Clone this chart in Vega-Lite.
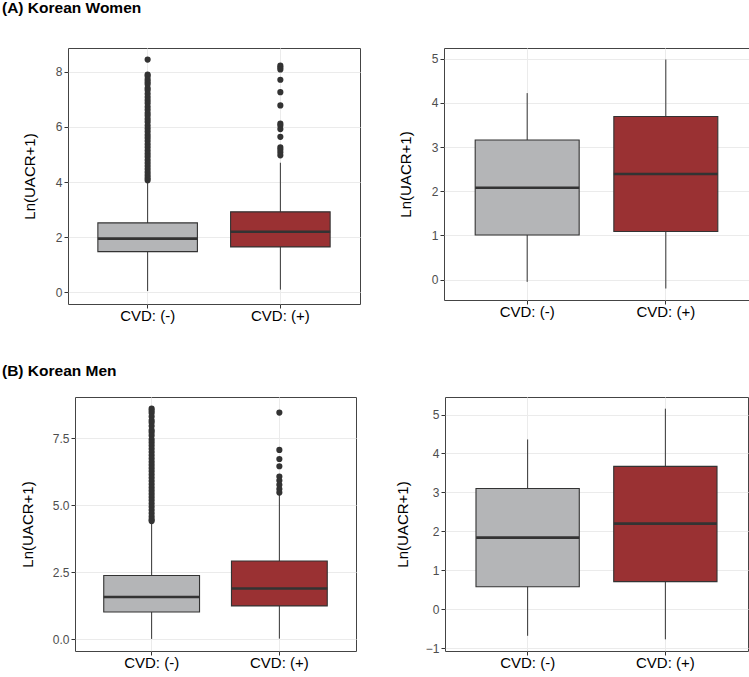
{
  "$schema": "https://vega.github.io/schema/vega-lite/v6.json",
  "padding": {"left": 1, "top": 0, "right": 0, "bottom": 0},
  "background": "white",
  "config": {
    "font": "Liberation Sans",
    "view": {"stroke": "#444444", "strokeWidth": 1},
    "axis": {"domain": false}
  },
  "datasets": {
    "boxes": [
      {"panel": "A1", "group": "CVD: (-)", "lower": 0.05, "q1": 1.48, "median": 1.95, "q3": 2.52, "upper": 4.05},
      {"panel": "A1", "group": "CVD: (+)", "lower": 0.1, "q1": 1.65, "median": 2.2, "q3": 2.92, "upper": 4.7},
      {"panel": "A2", "group": "CVD: (-)", "lower": -0.05, "q1": 1.01, "median": 2.08, "q3": 3.16, "upper": 4.22},
      {"panel": "A2", "group": "CVD: (+)", "lower": -0.2, "q1": 1.09, "median": 2.39, "q3": 3.69, "upper": 4.98},
      {"panel": "B1", "group": "CVD: (-)", "lower": 0.02, "q1": 1.02, "median": 1.58, "q3": 2.38, "upper": 4.4},
      {"panel": "B1", "group": "CVD: (+)", "lower": 0.03, "q1": 1.25, "median": 1.9, "q3": 2.92, "upper": 5.38},
      {"panel": "B2", "group": "CVD: (-)", "lower": -0.68, "q1": 0.58, "median": 1.84, "q3": 3.1, "upper": 4.36},
      {"panel": "B2", "group": "CVD: (+)", "lower": -0.77, "q1": 0.71, "median": 2.2, "q3": 3.67, "upper": 5.15}
    ],
    "outliers": [
      {"panel": "A1", "group": "CVD: (-)", "value": 8.44},
      {"panel": "A1", "group": "CVD: (-)", "value": 7.9},
      {"panel": "A1", "group": "CVD: (-)", "value": 7.84},
      {"panel": "A1", "group": "CVD: (-)", "value": 7.72},
      {"panel": "A1", "group": "CVD: (-)", "value": 7.63},
      {"panel": "A1", "group": "CVD: (-)", "value": 7.55},
      {"panel": "A1", "group": "CVD: (-)", "value": 7.41},
      {"panel": "A1", "group": "CVD: (-)", "value": 7.33},
      {"panel": "A1", "group": "CVD: (-)", "value": 7.2},
      {"panel": "A1", "group": "CVD: (-)", "value": 7.08},
      {"panel": "A1", "group": "CVD: (-)", "value": 6.97},
      {"panel": "A1", "group": "CVD: (-)", "value": 6.86},
      {"panel": "A1", "group": "CVD: (-)", "value": 6.73},
      {"panel": "A1", "group": "CVD: (-)", "value": 6.62},
      {"panel": "A1", "group": "CVD: (-)", "value": 6.5},
      {"panel": "A1", "group": "CVD: (-)", "value": 6.41},
      {"panel": "A1", "group": "CVD: (-)", "value": 6.29},
      {"panel": "A1", "group": "CVD: (-)", "value": 6.18},
      {"panel": "A1", "group": "CVD: (-)", "value": 6.05},
      {"panel": "A1", "group": "CVD: (-)", "value": 5.94},
      {"panel": "A1", "group": "CVD: (-)", "value": 5.83},
      {"panel": "A1", "group": "CVD: (-)", "value": 5.71},
      {"panel": "A1", "group": "CVD: (-)", "value": 5.6},
      {"panel": "A1", "group": "CVD: (-)", "value": 5.49},
      {"panel": "A1", "group": "CVD: (-)", "value": 5.37},
      {"panel": "A1", "group": "CVD: (-)", "value": 5.26},
      {"panel": "A1", "group": "CVD: (-)", "value": 5.14},
      {"panel": "A1", "group": "CVD: (-)", "value": 5.03},
      {"panel": "A1", "group": "CVD: (-)", "value": 4.92},
      {"panel": "A1", "group": "CVD: (-)", "value": 4.8},
      {"panel": "A1", "group": "CVD: (-)", "value": 4.69},
      {"panel": "A1", "group": "CVD: (-)", "value": 4.58},
      {"panel": "A1", "group": "CVD: (-)", "value": 4.47},
      {"panel": "A1", "group": "CVD: (-)", "value": 4.36},
      {"panel": "A1", "group": "CVD: (-)", "value": 4.25},
      {"panel": "A1", "group": "CVD: (-)", "value": 4.15},
      {"panel": "A1", "group": "CVD: (-)", "value": 4.07},
      {"panel": "A1", "group": "CVD: (+)", "value": 8.22},
      {"panel": "A1", "group": "CVD: (+)", "value": 8.15},
      {"panel": "A1", "group": "CVD: (+)", "value": 8.08},
      {"panel": "A1", "group": "CVD: (+)", "value": 7.71},
      {"panel": "A1", "group": "CVD: (+)", "value": 7.26},
      {"panel": "A1", "group": "CVD: (+)", "value": 6.78},
      {"panel": "A1", "group": "CVD: (+)", "value": 6.12},
      {"panel": "A1", "group": "CVD: (+)", "value": 6.05},
      {"panel": "A1", "group": "CVD: (+)", "value": 5.92},
      {"panel": "A1", "group": "CVD: (+)", "value": 5.64},
      {"panel": "A1", "group": "CVD: (+)", "value": 5.26},
      {"panel": "A1", "group": "CVD: (+)", "value": 5.18},
      {"panel": "A1", "group": "CVD: (+)", "value": 5.08},
      {"panel": "A1", "group": "CVD: (+)", "value": 4.97},
      {"panel": "B1", "group": "CVD: (-)", "value": 8.6},
      {"panel": "B1", "group": "CVD: (-)", "value": 8.52},
      {"panel": "B1", "group": "CVD: (-)", "value": 8.43},
      {"panel": "B1", "group": "CVD: (-)", "value": 8.3},
      {"panel": "B1", "group": "CVD: (-)", "value": 8.16},
      {"panel": "B1", "group": "CVD: (-)", "value": 8.08},
      {"panel": "B1", "group": "CVD: (-)", "value": 7.95},
      {"panel": "B1", "group": "CVD: (-)", "value": 7.8},
      {"panel": "B1", "group": "CVD: (-)", "value": 7.72},
      {"panel": "B1", "group": "CVD: (-)", "value": 7.6},
      {"panel": "B1", "group": "CVD: (-)", "value": 7.45},
      {"panel": "B1", "group": "CVD: (-)", "value": 7.34},
      {"panel": "B1", "group": "CVD: (-)", "value": 7.22},
      {"panel": "B1", "group": "CVD: (-)", "value": 7.1},
      {"panel": "B1", "group": "CVD: (-)", "value": 6.98},
      {"panel": "B1", "group": "CVD: (-)", "value": 6.86},
      {"panel": "B1", "group": "CVD: (-)", "value": 6.74},
      {"panel": "B1", "group": "CVD: (-)", "value": 6.62},
      {"panel": "B1", "group": "CVD: (-)", "value": 6.5},
      {"panel": "B1", "group": "CVD: (-)", "value": 6.38},
      {"panel": "B1", "group": "CVD: (-)", "value": 6.26},
      {"panel": "B1", "group": "CVD: (-)", "value": 6.14},
      {"panel": "B1", "group": "CVD: (-)", "value": 6.02},
      {"panel": "B1", "group": "CVD: (-)", "value": 5.9},
      {"panel": "B1", "group": "CVD: (-)", "value": 5.78},
      {"panel": "B1", "group": "CVD: (-)", "value": 5.66},
      {"panel": "B1", "group": "CVD: (-)", "value": 5.54},
      {"panel": "B1", "group": "CVD: (-)", "value": 5.42},
      {"panel": "B1", "group": "CVD: (-)", "value": 5.3},
      {"panel": "B1", "group": "CVD: (-)", "value": 5.18},
      {"panel": "B1", "group": "CVD: (-)", "value": 5.06},
      {"panel": "B1", "group": "CVD: (-)", "value": 4.94},
      {"panel": "B1", "group": "CVD: (-)", "value": 4.82},
      {"panel": "B1", "group": "CVD: (-)", "value": 4.7},
      {"panel": "B1", "group": "CVD: (-)", "value": 4.58},
      {"panel": "B1", "group": "CVD: (-)", "value": 4.47},
      {"panel": "B1", "group": "CVD: (-)", "value": 4.41},
      {"panel": "B1", "group": "CVD: (+)", "value": 8.45},
      {"panel": "B1", "group": "CVD: (+)", "value": 7.06},
      {"panel": "B1", "group": "CVD: (+)", "value": 6.72},
      {"panel": "B1", "group": "CVD: (+)", "value": 6.45},
      {"panel": "B1", "group": "CVD: (+)", "value": 6.07},
      {"panel": "B1", "group": "CVD: (+)", "value": 5.92},
      {"panel": "B1", "group": "CVD: (+)", "value": 5.76},
      {"panel": "B1", "group": "CVD: (+)", "value": 5.6},
      {"panel": "B1", "group": "CVD: (+)", "value": 5.47}
    ]
  },
  "vconcat": [
    {
      "hconcat": [
        {
          "width": 292, "height": 256,
          "title": {"text": "(A) Korean Women", "anchor": "start", "frame": "group", "dx": -66, "offset": 19.5, "baseline": "alphabetic", "fontSize": 15.5, "fontWeight": "bold", "color": "#000000"},
          "layer": [
            {"data": {"name": "boxes"}, "transform": [{"filter": "datum.panel == 'A1'"}],
             "mark": {"type": "rule", "color": "#333333", "strokeWidth": 1},
             "encoding": {
               "x": {"field": "group", "type": "nominal", "scale": {"domain": ["CVD: (-)", "CVD: (+)"], "paddingInner": 0, "paddingOuter": 0.1}, "axis": {"title": null, "labelAngle": 0, "labelFontSize": 15, "labelColor": "#000000", "labelPadding": 0, "tickColor": "#333333", "tickSize": 4, "grid": true, "gridColor": "#ebebeb", "gridWidth": 1, "bandPosition": 0.5}},
               "y": {"field": "lower", "type": "quantitative", "title": "Ln(UACR+1)", "scale": {"domain": [-0.42, 8.86], "nice": false, "zero": false},
                     "axis": {"values": [0, 1, 2, 3, 4, 5, 6, 7, 8], "labelOverlap": false, "labelExpr": "datum.value % 2 != 0 ? '' : datum.label", "labelFontSize": 12, "labelColor": "#4d4d4d", "labelPadding": 2, "tickColor": "#333333", "tickSize": 4, "tickOpacity": {"condition": {"test": "datum.value % 2 != 0", "value": 0}, "value": 1}, "gridColor": "#ebebeb", "gridWidth": {"condition": {"test": "datum.value % 2 != 0", "value": 0.6}, "value": 1.1}, "titleFontSize": 15, "titleFontWeight": "normal", "titleColor": "#000000", "titleX": -38.5, "titleY": 128, "titleAngle": 270, "titleBaseline": "middle", "titleAlign": "center"}},
               "y2": {"field": "upper"}
             }},
            {"data": {"name": "boxes"}, "transform": [{"filter": "datum.panel == 'A1'"}],
             "mark": {"type": "bar", "width": {"band": 0.75}, "stroke": "#333333", "strokeWidth": 1.1},
             "encoding": {
               "x": {"field": "group", "type": "nominal"},
               "y": {"field": "q1", "type": "quantitative", "title": "Ln(UACR+1)"},
               "y2": {"field": "q3"},
               "fill": {"field": "group", "type": "nominal", "scale": {"domain": ["CVD: (-)", "CVD: (+)"], "range": ["#b4b5b7", "#9a3133"]}, "legend": null}
             }},
            {"data": {"name": "boxes"}, "transform": [{"filter": "datum.panel == 'A1'"}],
             "mark": {"type": "tick", "color": "#333333", "thickness": 2.6, "size": 99.5, "opacity": 1},
             "encoding": {
               "x": {"field": "group", "type": "nominal"},
               "y": {"field": "median", "type": "quantitative", "title": "Ln(UACR+1)"}
             }},
            {"data": {"name": "outliers"}, "transform": [{"filter": "datum.panel == 'A1'"}],
             "mark": {"type": "circle", "color": "#333333", "size": 38, "opacity": 1},
             "encoding": {
               "x": {"field": "group", "type": "nominal"},
               "y": {"field": "value", "type": "quantitative", "title": "Ln(UACR+1)"}
             }}
          ]
        },
        {
          "width": 305, "height": 252,
          "layer": [
            {"data": {"name": "boxes"}, "transform": [{"filter": "datum.panel == 'A2'"}],
             "mark": {"type": "rule", "color": "#333333", "strokeWidth": 1},
             "encoding": {
               "x": {"field": "group", "type": "nominal", "scale": {"domain": ["CVD: (-)", "CVD: (+)"], "paddingInner": 0, "paddingOuter": 0.1}, "axis": {"title": null, "labelAngle": 0, "labelFontSize": 15, "labelColor": "#000000", "labelPadding": 0, "tickColor": "#333333", "tickSize": 4, "grid": true, "gridColor": "#ebebeb", "gridWidth": 1, "bandPosition": 0.5}},
               "y": {"field": "lower", "type": "quantitative", "title": "Ln(UACR+1)", "scale": {"domain": [-0.46, 5.24], "nice": false, "zero": false},
                     "axis": {"values": [0, 0.5, 1, 1.5, 2, 2.5, 3, 3.5, 4, 4.5, 5], "labelOverlap": false, "labelExpr": "datum.value % 1 != 0 ? '' : datum.label", "labelFontSize": 12, "labelColor": "#4d4d4d", "labelPadding": 2, "tickColor": "#333333", "tickSize": 4, "tickOpacity": {"condition": {"test": "datum.value % 1 != 0", "value": 0}, "value": 1}, "gridColor": "#ebebeb", "gridWidth": {"condition": {"test": "datum.value % 1 != 0", "value": 0.6}, "value": 1.1}, "titleFontSize": 15, "titleFontWeight": "normal", "titleColor": "#000000", "titleX": -38.5, "titleY": 126, "titleAngle": 270, "titleBaseline": "middle", "titleAlign": "center"}},
               "y2": {"field": "upper"}
             }},
            {"data": {"name": "boxes"}, "transform": [{"filter": "datum.panel == 'A2'"}],
             "mark": {"type": "bar", "width": {"band": 0.75}, "stroke": "#333333", "strokeWidth": 1.1},
             "encoding": {
               "x": {"field": "group", "type": "nominal"},
               "y": {"field": "q1", "type": "quantitative", "title": "Ln(UACR+1)"},
               "y2": {"field": "q3"},
               "fill": {"field": "group", "type": "nominal", "scale": {"domain": ["CVD: (-)", "CVD: (+)"], "range": ["#b4b5b7", "#9a3133"]}, "legend": null}
             }},
            {"data": {"name": "boxes"}, "transform": [{"filter": "datum.panel == 'A2'"}],
             "mark": {"type": "tick", "color": "#333333", "thickness": 2.6, "size": 104, "opacity": 1},
             "encoding": {
               "x": {"field": "group", "type": "nominal"},
               "y": {"field": "median", "type": "quantitative", "title": "Ln(UACR+1)"}
             }}
          ]
        }
      ],
      "spacing": 84,
      "bounds": "flush"
    },
    {
      "hconcat": [
        {
          "width": 7, "height": 254,
          "view": {"stroke": null},
          "data": {"values": []},
          "mark": "point"
        },
        {
          "width": 281, "height": 254,
          "title": {"text": "(B) Korean Men", "anchor": "start", "frame": "group", "dx": -73, "offset": 6, "baseline": "alphabetic", "fontSize": 15.5, "fontWeight": "bold", "color": "#000000"},
          "layer": [
            {"data": {"name": "boxes"}, "transform": [{"filter": "datum.panel == 'B1'"}],
             "mark": {"type": "rule", "color": "#333333", "strokeWidth": 1},
             "encoding": {
               "x": {"field": "group", "type": "nominal", "scale": {"domain": ["CVD: (-)", "CVD: (+)"], "paddingInner": 0, "paddingOuter": 0.1}, "axis": {"title": null, "labelAngle": 0, "labelFontSize": 15, "labelColor": "#000000", "labelPadding": 0, "tickColor": "#333333", "tickSize": 4, "grid": true, "gridColor": "#ebebeb", "gridWidth": 1, "bandPosition": 0.5}},
               "y": {"field": "lower", "type": "quantitative", "title": "Ln(UACR+1)", "scale": {"domain": [-0.43, 9.03], "nice": false, "zero": false},
                     "axis": {"values": [0, 1.25, 2.5, 3.75, 5, 6.25, 7.5, 8.75], "format": ".1f", "labelOverlap": false, "labelExpr": "datum.value % 2.5 != 0 ? '' : datum.label", "labelFontSize": 12, "labelColor": "#4d4d4d", "labelPadding": 2, "tickColor": "#333333", "tickSize": 4, "tickOpacity": {"condition": {"test": "datum.value % 2.5 != 0", "value": 0}, "value": 1}, "gridColor": "#ebebeb", "gridWidth": {"condition": {"test": "datum.value % 2.5 != 0", "value": 0.6}, "value": 1.1}, "titleFontSize": 15, "titleFontWeight": "normal", "titleColor": "#000000", "titleX": -48, "titleY": 127, "titleAngle": 270, "titleBaseline": "middle", "titleAlign": "center"}},
               "y2": {"field": "upper"}
             }},
            {"data": {"name": "boxes"}, "transform": [{"filter": "datum.panel == 'B1'"}],
             "mark": {"type": "bar", "width": {"band": 0.75}, "stroke": "#333333", "strokeWidth": 1.1},
             "encoding": {
               "x": {"field": "group", "type": "nominal"},
               "y": {"field": "q1", "type": "quantitative", "title": "Ln(UACR+1)"},
               "y2": {"field": "q3"},
               "fill": {"field": "group", "type": "nominal", "scale": {"domain": ["CVD: (-)", "CVD: (+)"], "range": ["#b4b5b7", "#9a3133"]}, "legend": null}
             }},
            {"data": {"name": "boxes"}, "transform": [{"filter": "datum.panel == 'B1'"}],
             "mark": {"type": "tick", "color": "#333333", "thickness": 2.6, "size": 96, "opacity": 1},
             "encoding": {
               "x": {"field": "group", "type": "nominal"},
               "y": {"field": "median", "type": "quantitative", "title": "Ln(UACR+1)"}
             }},
            {"data": {"name": "outliers"}, "transform": [{"filter": "datum.panel == 'B1'"}],
             "mark": {"type": "circle", "color": "#333333", "size": 38, "opacity": 1},
             "encoding": {
               "x": {"field": "group", "type": "nominal"},
               "y": {"field": "value", "type": "quantitative", "title": "Ln(UACR+1)"}
             }}
          ]
        },
        {
          "width": 89, "height": 254,
          "view": {"stroke": null},
          "data": {"values": []},
          "mark": "point"
        },
        {
          "width": 303, "height": 254,
          "layer": [
            {"data": {"name": "boxes"}, "transform": [{"filter": "datum.panel == 'B2'"}],
             "mark": {"type": "rule", "color": "#333333", "strokeWidth": 1},
             "encoding": {
               "x": {"field": "group", "type": "nominal", "scale": {"domain": ["CVD: (-)", "CVD: (+)"], "paddingInner": 0, "paddingOuter": 0.1}, "axis": {"title": null, "labelAngle": 0, "labelFontSize": 15, "labelColor": "#000000", "labelPadding": 0, "tickColor": "#333333", "tickSize": 4, "grid": true, "gridColor": "#ebebeb", "gridWidth": 1, "bandPosition": 0.5}},
               "y": {"field": "lower", "type": "quantitative", "title": "Ln(UACR+1)", "scale": {"domain": [-1.07, 5.45], "nice": false, "zero": false},
                     "axis": {"values": [-1, -0.5, 0, 0.5, 1, 1.5, 2, 2.5, 3, 3.5, 4, 4.5, 5], "labelOverlap": false, "labelExpr": "datum.value % 1 != 0 ? '' : datum.label", "labelFontSize": 12, "labelColor": "#4d4d4d", "labelPadding": 2, "tickColor": "#333333", "tickSize": 4, "tickOpacity": {"condition": {"test": "datum.value % 1 != 0", "value": 0}, "value": 1}, "gridColor": "#ebebeb", "gridWidth": {"condition": {"test": "datum.value % 1 != 0", "value": 0.6}, "value": 1.1}, "titleFontSize": 15, "titleFontWeight": "normal", "titleColor": "#000000", "titleX": -42.5, "titleY": 127, "titleAngle": 270, "titleBaseline": "middle", "titleAlign": "center"}},
               "y2": {"field": "upper"}
             }},
            {"data": {"name": "boxes"}, "transform": [{"filter": "datum.panel == 'B2'"}],
             "mark": {"type": "bar", "width": {"band": 0.75}, "stroke": "#333333", "strokeWidth": 1.1},
             "encoding": {
               "x": {"field": "group", "type": "nominal"},
               "y": {"field": "q1", "type": "quantitative", "title": "Ln(UACR+1)"},
               "y2": {"field": "q3"},
               "fill": {"field": "group", "type": "nominal", "scale": {"domain": ["CVD: (-)", "CVD: (+)"], "range": ["#b4b5b7", "#9a3133"]}, "legend": null}
             }},
            {"data": {"name": "boxes"}, "transform": [{"filter": "datum.panel == 'B2'"}],
             "mark": {"type": "tick", "color": "#333333", "thickness": 2.6, "size": 103, "opacity": 1},
             "encoding": {
               "x": {"field": "group", "type": "nominal"},
               "y": {"field": "median", "type": "quantitative", "title": "Ln(UACR+1)"}
             }}
          ]
        }
      ],
      "spacing": 0,
      "bounds": "flush"
    }
  ],
  "spacing": 39,
  "bounds": "full",
  "align": "none"
}
